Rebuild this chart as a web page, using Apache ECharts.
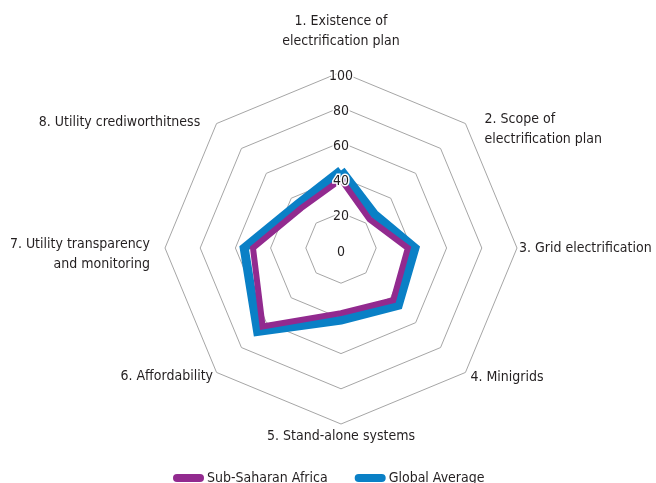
<!DOCTYPE html>
<html>
<head>
<meta charset="utf-8">
<script src="https://cdn.jsdelivr.net/npm/echarts@6/dist/echarts.min.js"></script>
<style>
html,body{margin:0;padding:0;background:#fff;}
#chart{width:656px;height:483px;}
</style>
</head>
<body>
<div id="chart"></div>
<script>
// Indicators listed clockwise from the top (as in the reference)
const categories = [
  '1. Existence of\nelectrification plan',
  '2. Scope of\nelectrification plan',
  '3. Grid electrification',
  '4. Minigrids',
  '5. Stand-alone systems',
  '6. Affordability',
  '7. Utility transparency\nand monitoring',
  '8. Utility crediworthitness'
];
const seriesNames = ['Sub-Saharan Africa', 'Global Average'];
const subSaharanAfrica = [39, 23, 38, 42, 37, 63, 50, 32];
const globalAverage    = [44, 27, 42, 46, 41, 67, 55, 35];
const tickValues = [0, 20, 40, 60, 80, 100];

const FONT = "'Liberation Sans Narrow', 'DejaVu Sans Condensed', sans-serif";
const FS = 14;
const TXT = '#231f20';

// ECharts radar runs counter-clockwise; reorder so the chart reads clockwise.
const order = [0, 7, 6, 5, 4, 3, 2, 1];
// per-indicator name placement (keyed by original index)
const namePlace = {
  0: {gap: 21, align: 'center', va: 'bottom', pad: [0, 0, 0, 0]},
  1: {gap: 20, align: 'left', va: 'top', pad: [0, 0, 0, 5]},
  2: {gap: 2, align: 'left', va: 'middle', pad: [0, 0, 0, 0]},
  3: {gap: 7, align: 'left', va: 'middle', pad: [0, 0, 0, 0]},
  4: {gap: 2, align: 'center', va: 'top', pad: [0, 0, 0, 0]},
  5: {gap: 5, align: 'right', va: 'middle', pad: [0, 0, 0, 0]},
  6: {gap: 15, align: 'right', va: 'middle', pad: [0, 0, 0, 0]},
  7: {gap: 16, align: 'right', va: 'top', pad: [0, 5, 0, 0]}
};

const maxVal = tickValues[tickValues.length - 1];
const indicatorMain = order.map(i => ({
  name: categories[i],
  max: maxVal,
  min: tickValues[0],
  nameGap: namePlace[i].gap,
  nameTextStyle: {
    align: namePlace[i].align,
    verticalAlign: namePlace[i].va,
    padding: namePlace[i].pad
  }
}));
const indicatorLabels = order.map((i, k) => ({
  name: '',
  max: maxVal,
  min: tickValues[0],
  axisLabel: k === 0 ? {show: true} : {show: false}
}));

const center = [341, 248];
const radius = 176;

const chart = echarts.init(document.getElementById('chart'), null, {renderer: 'canvas'});
chart.setOption({
  animation: false,
  backgroundColor: '#fff',
  textStyle: {fontFamily: FONT},
  legend: {
    data: seriesNames,
    left: 168,
    top: 466,
    icon: 'path://M4,0 H27 A4,4 0 0 1 27,8 H4 A4,4 0 0 1 4,0 Z',
    itemWidth: 31,
    itemHeight: 8,
    itemGap: 27,
    textStyle: {fontFamily: FONT, fontSize: FS, color: TXT, padding: [0, 0, 0, -2]}
  },
  radar: [
    {
      center: center,
      radius: radius,
      shape: 'polygon',
      splitNumber: tickValues.length - 1,
      startAngle: 90,
      indicator: indicatorMain,
      axisName: {
        color: TXT, fontFamily: FONT, fontSize: FS, lineHeight: 20,
        // a small spacer line pushes the two-line left label slightly down
        formatter: (name) => name === categories[6] ? '{s| }\n' + name : name,
        rich: {s: {fontSize: 1, lineHeight: 12}}
      },
      axisLine: {show: false},
      axisTick: {show: false},
      axisLabel: {show: false},
      splitArea: {show: false},
      splitLine: {lineStyle: {color: '#a6a6a6', width: 1}}
    },
    {
      center: center,
      radius: radius,
      shape: 'polygon',
      splitNumber: tickValues.length - 1,
      startAngle: 90,
      z: 5,
      indicator: indicatorLabels,
      axisName: {show: false},
      axisLine: {show: false},
      axisTick: {show: false},
      splitArea: {show: false},
      splitLine: {show: false},
      axisLabel: {
        show: false,
        margin: 0,
        align: 'center',
        verticalAlign: 'top',
        lineHeight: 8,
        color: TXT,
        fontFamily: FONT,
        fontSize: FS,
        textBorderColor: '#fff',
        textBorderWidth: 3
      }
    }
  ],
  series: [
    {
      type: 'radar',
      radarIndex: 0,
      symbol: 'none',
      data: [
        {
          name: seriesNames[1],
          value: order.map(i => globalAverage[i]),
          itemStyle: {color: '#0a80c6'},
          lineStyle: {color: '#0a80c6', width: 9, join: 'miter'}
        },
        {
          name: seriesNames[0],
          value: order.map(i => subSaharanAfrica[i]),
          itemStyle: {color: '#922a8f'},
          lineStyle: {color: '#922a8f', width: 6, join: 'miter'}
        }
      ]
    }
  ]
});
</script>
</body>
</html>
